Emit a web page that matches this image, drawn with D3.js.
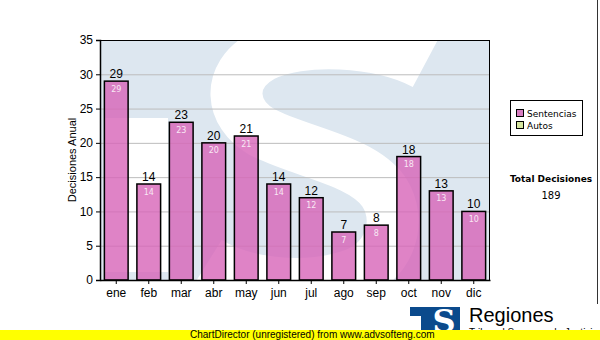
<!DOCTYPE html>
<html>
<head>
<meta charset="utf-8">
<script src="https://cdn.jsdelivr.net/npm/d3@7/dist/d3.min.js"></script>
<style>
  body { margin: 0; background: #fff; }
  svg { display: block; }
</style>
</head>
<body>
<div id="chart"></div>
<script>
// datos
const months = ['ene', 'feb', 'mar', 'abr', 'may', 'jun', 'jul', 'ago', 'sep', 'oct', 'nov', 'dic']
const sentencias = [29, 14, 23, 20, 21, 14, 12, 7, 8, 18, 13, 10]
const yTicks = [0, 5, 10, 15, 20, 25, 30, 35]
const legendLabels = ['Sentencias', 'Autos']
const legendColors = ['#d77cc0', '#d6e6a0']

const width = 600
const height = 340
const plot = { left: 100, top: 40, right: 490, bottom: 280 }

const svg = d3.select('#chart').append('svg')
  .attr('width', width)
  .attr('height', height)
  .style('font-family', 'Liberation Sans, Arial, sans-serif')

const x = d3.scaleBand().domain(months).range([plot.left, plot.right]).paddingInner(0.27).paddingOuter(0.135)
const y = d3.scaleLinear().domain([0, 35]).range([plot.bottom, plot.top])

/**
 * fondo del area de trazado con la marca de agua
 */
svg.append('clipPath').attr('id', 'plotClip')
  .append('rect')
  .attr('x', plot.left).attr('y', plot.top)
  .attr('width', plot.right - plot.left).attr('height', plot.bottom - plot.top)

const bg = svg.append('g').attr('clip-path', 'url(#plotClip)')
bg.append('rect')
  .attr('x', plot.left).attr('y', plot.top)
  .attr('width', plot.right - plot.left).attr('height', plot.bottom - plot.top)
  .attr('fill', '#dde7f0')
// hueco de la T
bg.append('rect')
  .attr('x', 104).attr('y', 118)
  .attr('width', 64).attr('height', 154)
  .attr('fill', '#fff')
// la S
bg.append('path')
  .attr('d', 'M425,64 C380,40 300,36 262,56 C226,76 230,114 262,132 C300,152 362,160 384,192 C402,220 392,262 350,276 C300,292 240,282 208,262')
  .attr('fill', 'none')
  .attr('stroke', '#fff')
  .attr('stroke-width', 52)

// rejilla
svg.append('g')
  .selectAll('line')
  .data(yTicks.filter(d => d > 0 && d < 35))
  .join('line')
  .attr('x1', plot.left).attr('x2', plot.right)
  .attr('y1', d => y(d) + 0.5).attr('y2', d => y(d) + 0.5)
  .attr('stroke', '#bcbcbc')
  .attr('stroke-width', 1)

// barras
const bars = svg.append('g')
bars.selectAll('rect')
  .data(sentencias)
  .join('rect')
  .attr('x', (d, i) => x(months[i]))
  .attr('y', d => y(d))
  .attr('width', x.bandwidth())
  .attr('height', d => y(0) - y(d))
  .attr('fill', '#d764b8')
  .attr('fill-opacity', 0.8)
  .attr('stroke', '#000')
  .attr('stroke-width', 1.5)

// etiquetas encima
bars.selectAll('text.top')
  .data(sentencias)
  .join('text')
  .attr('class', 'top')
  .attr('x', (d, i) => x(months[i]) + x.bandwidth() / 2)
  .attr('y', d => y(d) - 3)
  .attr('text-anchor', 'middle')
  .attr('font-size', 12)
  .attr('fill', '#000')
  .text(d => d)

// etiquetas dentro
bars.selectAll('text.in')
  .data(sentencias)
  .join('text')
  .attr('class', 'in')
  .attr('x', (d, i) => x(months[i]) + x.bandwidth() / 2)
  .attr('y', d => y(d) + 10.5)
  .attr('text-anchor', 'middle')
  .attr('font-size', 8)
  .attr('font-family', 'DejaVu Sans, Verdana, sans-serif')
  .attr('fill', '#f8e8f4')
  .text(d => d)

// borde del area
svg.append('rect')
  .attr('x', plot.left + 0.5).attr('y', plot.top + 0.5)
  .attr('width', plot.right - plot.left - 1).attr('height', plot.bottom - plot.top)
  .attr('fill', 'none')
  .attr('stroke', '#000')
  .attr('stroke-width', 1)

// ejes
const yAxis = svg.append('g')
  .attr('transform', `translate(${plot.left},0)`)
  .call(d3.axisLeft(y).tickValues(yTicks).tickSize(4).tickPadding(3))
yAxis.select('.domain').attr('stroke-width', 1.5)
yAxis.selectAll('text').attr('font-size', 12).attr('font-family', 'Liberation Sans, Arial, sans-serif').attr('fill', '#000')

const xAxis = svg.append('g')
  .attr('transform', `translate(0,${plot.bottom})`)
  .call(d3.axisBottom(x).tickSize(4).tickPadding(4).tickSizeOuter(0))
xAxis.select('.domain').attr('stroke-width', 1.5)
xAxis.selectAll('text').attr('font-size', 12).attr('font-family', 'Liberation Sans, Arial, sans-serif').attr('fill', '#000')

// titulo eje y
svg.append('text')
  .attr('transform', `translate(76,160) rotate(-90)`)
  .attr('text-anchor', 'middle')
  .attr('font-size', 11)
  .text('Decisiones Anual')

// leyenda
const legend = svg.append('g')
legend.append('rect')
  .attr('x', 510.5).attr('y', 100.5)
  .attr('width', 72).attr('height', 35)
  .attr('fill', '#fff')
  .attr('stroke', '#000')
legend.selectAll('rect.key')
  .data(legendLabels)
  .join('rect')
  .attr('class', 'key')
  .attr('x', 516.5)
  .attr('y', (d, i) => 109.5 + i * 12)
  .attr('width', 7).attr('height', 7)
  .attr('fill', (d, i) => legendColors[i])
  .attr('stroke', '#000')
legend.selectAll('text')
  .data(legendLabels)
  .join('text')
  .attr('x', 527)
  .attr('y', (d, i) => 116.5 + i * 12)
  .attr('font-size', 9)
  .attr('font-family', 'DejaVu Sans, Verdana, sans-serif')
  .text(d => d)

// total
const total = d3.sum(sentencias)
svg.append('text')
  .attr('x', 551).attr('y', 182)
  .attr('text-anchor', 'middle')
  .attr('font-size', 9)
  .attr('font-weight', 'bold')
  .attr('font-family', 'DejaVu Sans, Verdana, sans-serif')
  .text('Total Decisiones')
svg.append('text')
  .attr('x', 551).attr('y', 199)
  .attr('text-anchor', 'middle')
  .attr('font-size', 10)
  .attr('font-family', 'DejaVu Sans, Verdana, sans-serif')
  .text(total)

// linea a la derecha
svg.append('line')
  .attr('x1', 597.5).attr('x2', 597.5)
  .attr('y1', 0).attr('y2', 304)
  .attr('stroke', '#333')

// logo
const logo = svg.append('g')
logo.append('rect').attr('x', 410).attr('y', 307).attr('width', 50).attr('height', 26).attr('fill', '#0b4a8c')
logo.append('rect').attr('x', 410).attr('y', 316).attr('width', 11).attr('height', 17).attr('fill', '#fff')
logo.append('text')
  .attr('x', 444).attr('y', 332)
  .attr('text-anchor', 'middle')
  .attr('font-size', 32)
  .attr('font-weight', 'bold')
  .attr('font-family', 'DejaVu Serif, serif')
  .attr('fill', '#fff')
  .text('S')
svg.append('text')
  .attr('x', 469).attr('y', 322)
  .attr('font-size', 20)
  .text('Regiones')
svg.append('text')
  .attr('x', 469).attr('y', 336)
  .attr('font-size', 10)
  .text('Tribunal Supremo de Justicia')

// franja amarilla
svg.append('rect')
  .attr('x', 0).attr('y', 330)
  .attr('width', width).attr('height', 10)
  .attr('fill', '#ffff00')
svg.append('text')
  .attr('x', 190).attr('y', 338)
  .attr('font-size', 10)
  .text('ChartDirector (unregistered) from www.advsofteng.com')
</script>
</body>
</html>
